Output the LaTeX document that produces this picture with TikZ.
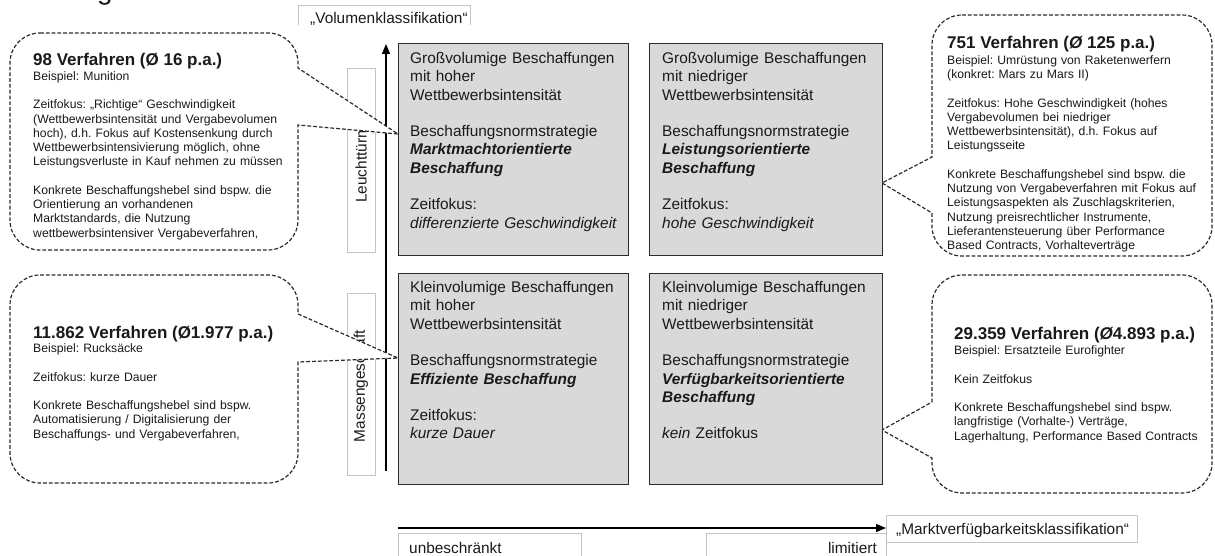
\documentclass[tikz,border=0pt]{standalone}
\usepackage{fontspec}
\setmainfont{Liberation Sans}
\usetikzlibrary{arrows.meta}
\definecolor{boxfill}{HTML}{D9D9D9}
\definecolor{boxline}{HTML}{2B2B2B}
\definecolor{lblline}{HTML}{C4C4C4}
\definecolor{txt}{HTML}{1A1A1A}
\frenchspacing
\begin{document}
\begin{tikzpicture}[x=1pt,y=-1pt,
  quad/.style={draw=boxline, fill=boxfill, line width=1.3pt, inner sep=0pt, anchor=north west},
  quadtxt/.style={anchor=base west, inner sep=0pt, text width=224pt, align=left, font=\fontsize{15.4}{18.3}\selectfont\frenchspacing, text=txt},
  callout/.style={draw=boxline, fill=white, line width=1.2pt, dash pattern=on 3.8pt off 2pt},
  ctitle/.style={anchor=base west, inner sep=0pt, font=\fontsize{17}{20}\selectfont\bfseries, text=txt},
  cbody/.style={anchor=base west, inner sep=0pt, text width=265pt, align=left, font=\fontsize{12.2}{14.25}\selectfont\frenchspacing, text=txt},
  lblbox/.style={draw=lblline, line width=0.9pt},
  lbltxt/.style={inner sep=0pt, font=\fontsize{15.4}{18}\selectfont, text=txt},
  axisarrow/.style={draw=black, line width=1.4pt, -{Triangle[length=10pt,width=8pt]}}
]
\useasboundingbox (0,0) rectangle (1215,556);
\begin{scope}
\clip (0,0) rectangle (1215,556);
\node[anchor=base west, inner sep=0pt, font=\fontsize{28}{30}\selectfont, text=txt] (frag) at (97,0) {g};
\end{scope}

% label boxes
\draw[lblbox] (298,25) -- (298,5) -- (470,5) -- (470,25);
\node[lbltxt, anchor=base west] (vk) at (310,24) {„Volumenklassifikation“};
\draw[lblbox] (347,68) rectangle (375,252);
\node[lbltxt, rotate=90] (leu) at (361,160) {Leuchttürme};
\draw[lblbox] (347,293) rectangle (375,475);
\node[lbltxt, rotate=90] (mas) at (361,386) {Massengeschäft};
\draw[lblbox] (398,557) -- (398,533) -- (581,533) -- (581,557);
\node[lbltxt, anchor=base west] (unb) at (409,553) {unbeschränkt};
\draw[lblbox] (706,557) -- (706,533) -- (886,533) -- (886,557);
\node[lbltxt, anchor=base east] (lim) at (877,553) {limitiert};
\draw[lblbox] (886,515) rectangle (1137,542);
\node[lbltxt, anchor=base west] (mk) at (896,534) {„Marktverfügbarkeitsklassifikation“};

% axes
\coordinate (vbot) at (386,471);
\coordinate (vtop) at (386,44);
\draw[axisarrow] (vbot) -- (vtop);
\coordinate (hl) at (398,528);
\coordinate (hr) at (886,528);
\draw[axisarrow] (hl) -- (hr);

% callouts
\path[callout] (40,33) -- (268,33) .. controls (284.6,33) and (298,46.4) .. (298,63) -- (298,68) -- (398,134) -- (298,125) -- (298,220) .. controls (298,236.6) and (284.6,250) .. (268,250) -- (40,250) .. controls (23.4,250) and (10,236.6) .. (10,220) -- (10,63) .. controls (10,46.4) and (23.4,33) .. (40,33) -- cycle;
\path[callout] (40,275) -- (268,275) .. controls (284.6,275) and (298,288.4) .. (298,305) -- (298,314) -- (398,358) -- (298,362) -- (298,453) .. controls (298,469.6) and (284.6,483) .. (268,483) -- (40,483) .. controls (23.4,483) and (10,469.6) .. (10,453) -- (10,305) .. controls (10,288.4) and (23.4,275) .. (40,275) -- cycle;
\path[callout] (962,15) -- (1182,15) .. controls (1198.6,15) and (1212,28.4) .. (1212,45) -- (1212,226) .. controls (1212,242.6) and (1198.6,256) .. (1182,256) -- (962,256) .. controls (945.4,256) and (932,242.6) .. (932,226) -- (932,213) -- (882,183) -- (932,157) -- (932,45) .. controls (932,28.4) and (945.4,15) .. (962,15) -- cycle;
\path[callout] (962,275) -- (1182,275) .. controls (1198.6,275) and (1212,288.4) .. (1212,305) -- (1212,463) .. controls (1212,479.6) and (1198.6,493) .. (1182,493) -- (962,493) .. controls (945.4,493) and (932,479.6) .. (932,463) -- (932,458) -- (882,430) -- (932,402) -- (932,305) .. controls (932,288.4) and (945.4,275) .. (962,275) -- cycle;

% callout texts
\node[ctitle] (t1) at (33,66) {98 Verfahren (Ø 16 p.a.)};
\node[cbody] (b1) at (33,80.5) {Beispiel: Munition\\[14.25pt]
Zeitfokus: „Richtige“ Geschwindigkeit\\
(Wettbewerbsintensität und Vergabevolumen\\
hoch), d.h. Fokus auf Kostensenkung durch\\
Wettbewerbsintensivierung möglich, ohne\\
Leistungsverluste in Kauf nehmen zu müssen\\[14.25pt]
Konkrete Beschaffungshebel sind bspw. die\\
Orientierung an vorhandenen\\
Marktstandards, die Nutzung\\
wettbewerbsintensiver Vergabeverfahren,};

\node[ctitle] (t2) at (33,338) {11.862 Verfahren (Ø1.977 p.a.)};
\node[cbody] (b2) at (33,352.5) {Beispiel: Rucksäcke\\[14.25pt]
Zeitfokus: kurze Dauer\\[14.25pt]
Konkrete Beschaffungshebel sind bspw.\\
Automatisierung / Digitalisierung der\\
Beschaffungs- und Vergabeverfahren,};

\node[ctitle] (t3) at (947,49) {751 Verfahren ({\itshape Ø} 125 p.a.)};
\node[cbody] (b3) at (947,64.5) {Beispiel: Umrüstung von Raketenwerfern\\
(konkret: Mars zu Mars II)\\[14.25pt]
Zeitfokus: Hohe Geschwindigkeit (hohes\\
Vergabevolumen bei niedriger\\
Wettbewerbsintensität), d.h. Fokus auf\\
Leistungsseite\\[14.25pt]
Konkrete Beschaffungshebel sind bspw. die\\
Nutzung von Vergabeverfahren mit Fokus auf\\
Leistungsaspekten als Zuschlagskriterien,\\
Nutzung preisrechtlicher Instrumente,\\
Lieferantensteuerung über Performance\\
Based Contracts, Vorhalteverträge};

\node[ctitle] (t4) at (954,339) {29.359 Verfahren ({\itshape Ø}4.893 p.a.)};
\node[cbody] (b4) at (954,354.5) {Beispiel: Ersatzteile Eurofighter\\[14.25pt]
Kein Zeitfokus\\[14.25pt]
Konkrete Beschaffungshebel sind bspw.\\
langfristige (Vorhalte-) Verträge,\\
Lagerhaltung, Performance Based Contracts};

% quadrant boxes
\node[quad, minimum width=230pt, minimum height=212pt] (q1) at (398,43) {};
\node[quad, minimum width=233pt, minimum height=212pt] (q2) at (649,43) {};
\node[quad, minimum width=230pt, minimum height=211pt] (q3) at (398,273) {};
\node[quad, minimum width=233pt, minimum height=211pt] (q4) at (649,273) {};

\node[quadtxt] (q1t) at (410,63.5) {Großvolumige Beschaffungen\\
mit hoher\\
Wettbewerbsintensität\\[18.3pt]
Beschaffungsnormstrategie\\
\textbf{\textit{Marktmachtorientierte}}\\
\textbf{\textit{Beschaffung}}\\[18.3pt]
Zeitfokus:\\
\textit{differenzierte Geschwindigkeit}};

\node[quadtxt] (q2t) at (662,63.5) {Großvolumige Beschaffungen\\
mit niedriger\\
Wettbewerbsintensität\\[18.3pt]
Beschaffungsnormstrategie\\
\textbf{\textit{Leistungsorientierte}}\\
\textbf{\textit{Beschaffung}}\\[18.3pt]
Zeitfokus:\\
\textit{hohe Geschwindigkeit}};

\node[quadtxt] (q3t) at (410,292.5) {Kleinvolumige Beschaffungen\\
mit hoher\\
Wettbewerbsintensität\\[18.3pt]
Beschaffungsnormstrategie\\
\textbf{\textit{Effiziente Beschaffung}}\\[18.3pt]
Zeitfokus:\\
\textit{kurze Dauer}};

\node[quadtxt] (q4t) at (662,292.5) {Kleinvolumige Beschaffungen\\
mit niedriger\\
Wettbewerbsintensität\\[18.3pt]
Beschaffungsnormstrategie\\
\textbf{\textit{Verfügbarkeitsorientierte}}\\
\textbf{\textit{Beschaffung}}\\[18.3pt]
\textit{kein} Zeitfokus};
\end{tikzpicture}
\end{document}
